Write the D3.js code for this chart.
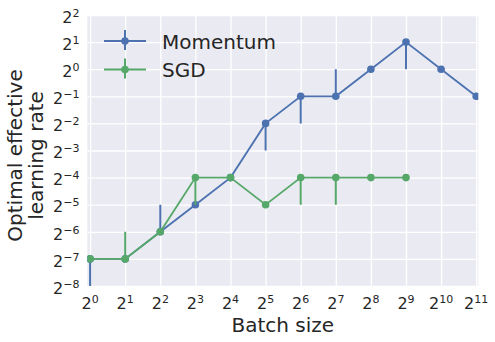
<!DOCTYPE html>
<html>
<head>
<meta charset="utf-8">
<script src="https://cdn.jsdelivr.net/npm/d3@7"></script>
<style>
  body { margin: 0; background: #fff; }
  svg text { font-family: "DejaVu Sans", sans-serif; fill: #262626; }
</style>
</head>
<body>
<svg id="chart" width="495" height="342"></svg>
<script>
// log2 of batch size / learning rate
let momX = [0, 1, 2, 3, 4, 5, 6, 7, 8, 9, 10, 11];
let momY = [-7, -7, -6, -5, -4, -2, -1, -1, 0, 1, 0, -1];
let momLo = [-8, -7, -6, -5, -4, -3, -2, -1, 0, 0, 0, -1];
let momHi = [-7, -7, -5, -5, -4, -2, -1, 0, 0, 1, 0, -1];

let sgdX = [0, 1, 2, 3, 4, 5, 6, 7, 8, 9];
let sgdY = [-7, -7, -6, -4, -4, -5, -4, -4, -4, -4];
let sgdLo = [-7, -7, -6, -5, -4, -5, -5, -5, -4, -4];
let sgdHi = [-7, -6, -6, -4, -4, -5, -4, -4, -4, -4];

let xTicks = d3.range(0, 12);
let yTicks = d3.range(-8, 3);

let width = 495, height = 342;
let margin = { top: 15, bottom: 56, left: 87.3, right: 16.7 };

let svg = d3.select('#chart');

let xscale = d3.scaleLinear()
    .domain([-0.08, 11.06])
    .range([margin.left, width - margin.right]);

let yscale = d3.scaleLinear()
    .domain([-8, 2])
    .range([height - margin.bottom, margin.top]);

// background
svg.append('rect')
    .attr('x', margin.left)
    .attr('y', margin.top)
    .attr('width', width - margin.left - margin.right)
    .attr('height', height - margin.top - margin.bottom)
    .style('fill', '#EAEAF2');

// grid
let xGrid = d3.axisBottom(xscale).tickValues(xTicks)
    .tickSize(-(height - margin.top - margin.bottom)).tickFormat('');
let yGrid = d3.axisLeft(yscale).tickValues(yTicks)
    .tickSize(-(width - margin.left - margin.right)).tickFormat('');

svg.append('g').attr('class', 'xgrid')
    .attr('transform', `translate(0,${height - margin.bottom})`)
    .call(xGrid);
svg.append('g').attr('class', 'ygrid')
    .attr('transform', `translate(${margin.left},0)`)
    .call(yGrid);

svg.selectAll('.xgrid .domain, .ygrid .domain').remove();
svg.selectAll('.xgrid line, .ygrid line')
    .style('stroke', '#ffffff')
    .style('stroke-width', 1.3);

// tick labels with superscripts
function powLabel(sel, v) {
    sel.append('tspan').text('2');
    sel.append('tspan')
        .attr('dy', -6)
        .style('font-size', '11px')
        .text(String(v).replace('-', '\u2212'));
}

let xAxis = svg.append('g').attr('class', 'xAxis');
xTicks.forEach((t) => {
    let txt = xAxis.append('text')
        .attr('x', xscale(t))
        .attr('y', 309.3)
        .attr('text-anchor', 'middle')
        .style('font-size', '16px');
    powLabel(txt, t);
});

let yAxis = svg.append('g').attr('class', 'yAxis');
yTicks.forEach((t) => {
    let txt = yAxis.append('text')
        .attr('x', 79.5)
        .attr('y', yscale(t) + 7.7)
        .attr('text-anchor', 'end')
        .style('font-size', '16px');
    powLabel(txt, t);
});

// axis titles
svg.append('text')
    .attr('x', (margin.left + width - margin.right) / 2)
    .attr('y', 331.7)
    .attr('text-anchor', 'middle')
    .style('font-size', '20px')
    .text('Batch size');

let ylab = svg.append('text')
    .attr('transform', `translate(21.7,155.5) rotate(-90)`)
    .attr('text-anchor', 'middle')
    .style('font-size', '20px');
ylab.append('tspan').attr('x', 0).attr('dy', 0).text('Optimal effective');
ylab.append('tspan').attr('x', 0).attr('dy', 21.6).text('learning rate');

// series
let plot = svg.append('g');
plot.append('clipPath').attr('id', 'clip')
    .append('rect')
    .attr('x', margin.left).attr('y', margin.top)
    .attr('width', width - margin.left - margin.right)
    .attr('height', height - margin.top - margin.bottom);

let line = d3.line().x(d => xscale(d[0])).y(d => yscale(d[1]));

function drawSeries(xs, ys, lo, hi, color) {
    let g = plot.append('g').attr('clip-path', 'url(#clip)');
    let pts = xs.map((x, i) => [x, ys[i]]);
    g.append('path')
        .datum(pts)
        .attr('d', line)
        .style('fill', 'none')
        .style('stroke', color)
        .style('stroke-width', 1.8);
    g.selectAll('.err')
        .data(xs.map((x, i) => [x, lo[i], hi[i]]).filter(d => d[1] !== d[2]))
        .join('line')
        .attr('x1', d => xscale(d[0]))
        .attr('x2', d => xscale(d[0]))
        .attr('y1', d => yscale(d[1]))
        .attr('y2', d => yscale(d[2]))
        .style('stroke', color)
        .style('stroke-width', 2);
    g.selectAll('circle')
        .data(pts)
        .join('circle')
        .attr('cx', d => xscale(d[0]))
        .attr('cy', d => yscale(d[1]))
        .attr('r', 3.8)
        .style('fill', color);
}

drawSeries(momX, momY, momLo, momHi, '#4C72B0');
drawSeries(sgdX, sgdY, sgdLo, sgdHi, '#55A868');

// legend
let legend = svg.append('g');
[['Momentum', '#4C72B0', 41], ['SGD', '#55A868', 69.5]].forEach((d) => {
    let name = d[0], color = d[1], y = d[2];
    legend.append('line')
        .attr('x1', 104).attr('x2', 146).attr('y1', y).attr('y2', y)
        .style('stroke', color).style('stroke-width', 1.8);
    legend.append('line')
        .attr('x1', 125).attr('x2', 125).attr('y1', y - 11).attr('y2', y + 9)
        .style('stroke', color).style('stroke-width', 2);
    legend.append('circle')
        .attr('cx', 125).attr('cy', y).attr('r', 3.8)
        .style('fill', color);
    legend.append('text')
        .attr('x', 162).attr('y', y + 7.5)
        .style('font-size', '20px')
        .text(name);
});
</script>
</body>
</html>
